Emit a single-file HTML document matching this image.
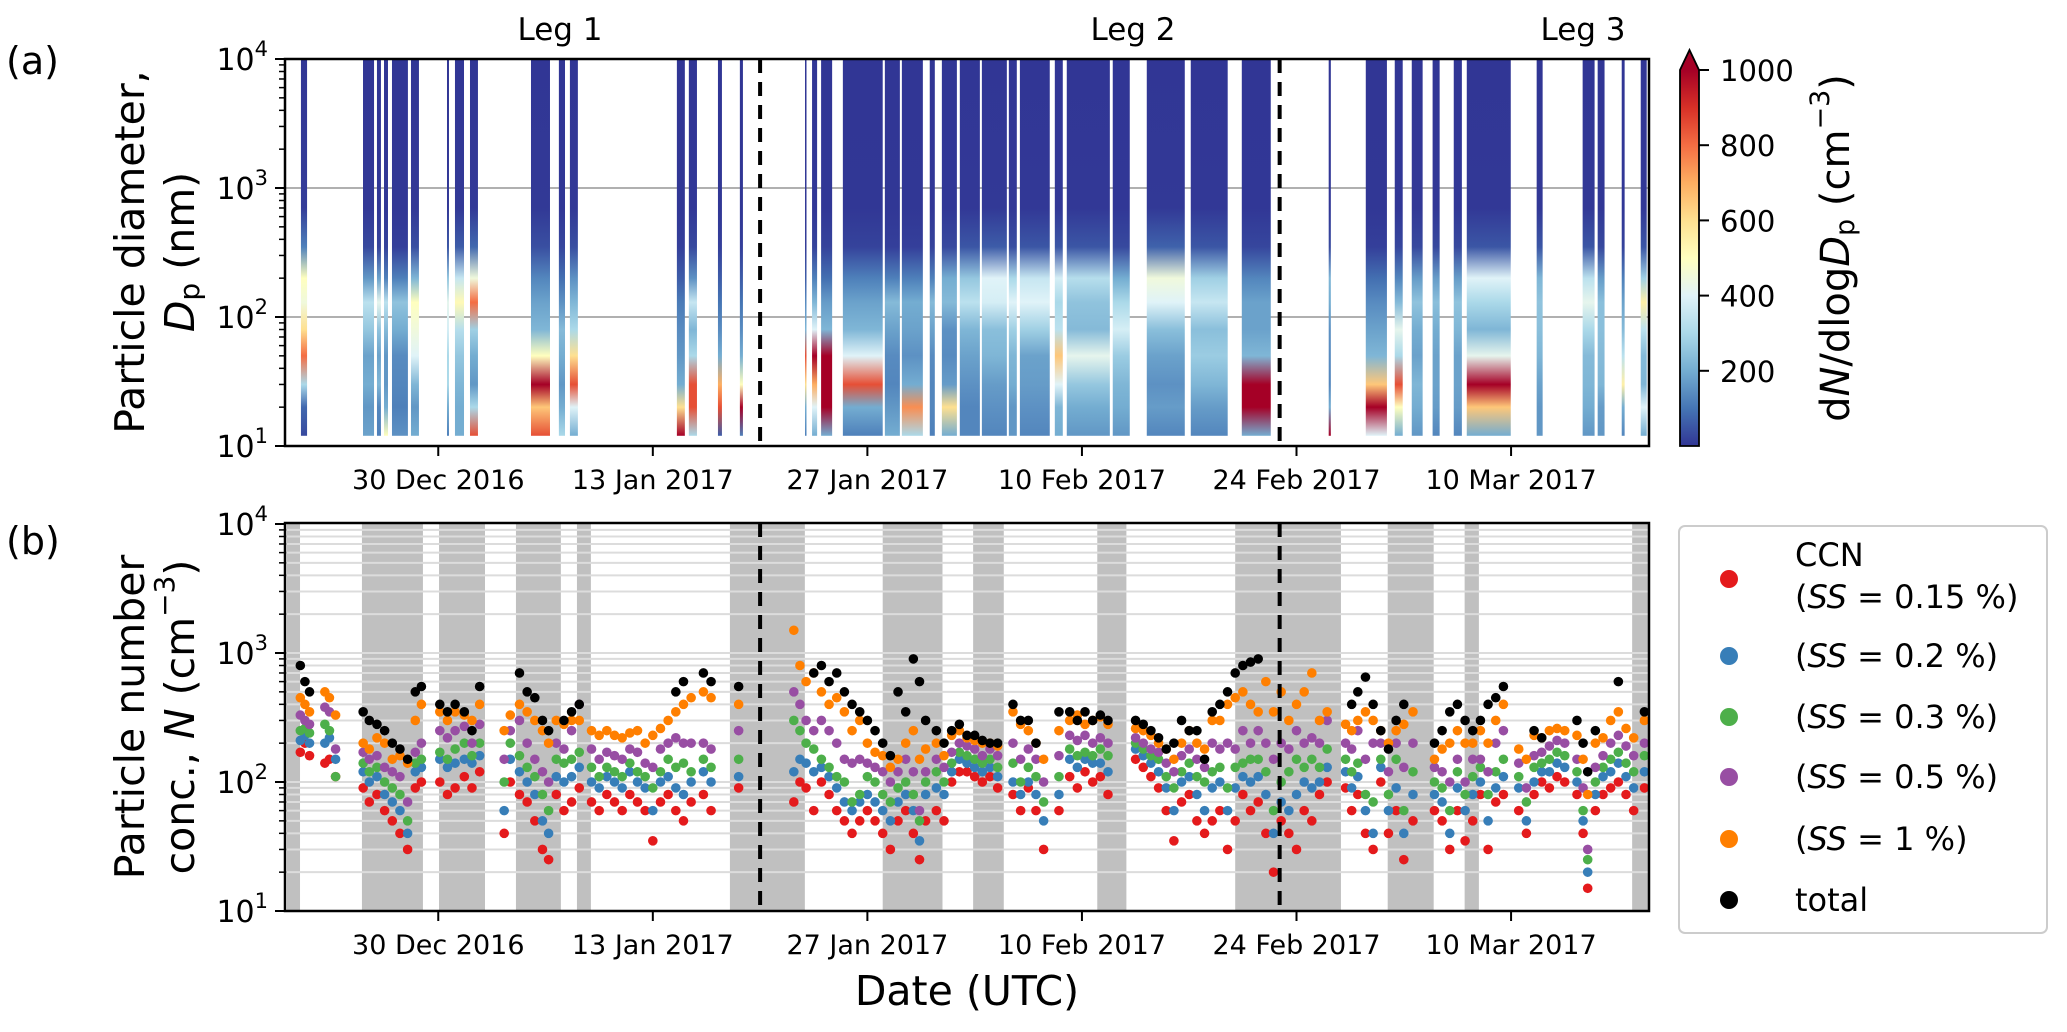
<!DOCTYPE html>
<html><head><meta charset="utf-8"><style>
html,body{margin:0;padding:0;background:#fff;}
svg text{font-family:"DejaVu Sans","Liberation Sans",sans-serif;fill:#000;}
</style></head><body>
<svg id="fig" xmlns="http://www.w3.org/2000/svg" width="2067" height="1027" viewBox="0 0 2067 1027">
<defs id="defs"></defs>
<g id="shade"></g>
<g id="gridA"></g>
<g id="gridB"></g>
<g id="heat"></g>
<g id="pts"></g>
<g id="axes"></g>
<text x="6" y="74" font-size="38">(a)</text>
<text x="6" y="554" font-size="38">(b)</text>
<text x="560" y="40" font-size="31" text-anchor="middle">Leg 1</text>
<text x="1133" y="40" font-size="31" text-anchor="middle">Leg 2</text>
<text x="1583" y="40" font-size="31" text-anchor="middle">Leg 3</text>
<text transform="translate(130,252) rotate(-90)" font-size="41" text-anchor="middle" dominant-baseline="central">Particle diameter,</text>
<text transform="translate(180,252) rotate(-90)" font-size="41" text-anchor="middle" dominant-baseline="central"><tspan font-style="italic">D</tspan><tspan font-size="28" dy="9">p</tspan><tspan dy="-9"> (nm)</tspan></text>
<text transform="translate(130,717) rotate(-90)" font-size="41" text-anchor="middle" dominant-baseline="central">Particle number</text>
<text transform="translate(180,717) rotate(-90)" font-size="41" text-anchor="middle" dominant-baseline="central">conc., <tspan font-style="italic">N</tspan> (cm<tspan font-size="28" dy="-16">−3</tspan><tspan dy="16">)</tspan></text>
<text x="967" y="1005" font-size="41" text-anchor="middle">Date (UTC)</text>
<text transform="translate(1836,248) rotate(-90)" font-size="40" text-anchor="middle" dominant-baseline="central">d<tspan font-style="italic">N</tspan>/dlog<tspan font-style="italic">D</tspan><tspan font-size="27" dy="9">p</tspan><tspan dy="-9"> (cm</tspan><tspan font-size="27" dy="-16">−3</tspan><tspan dy="16">)</tspan></text>
<g id="cbar"></g>
<g id="legend">
<rect x="1679" y="526" width="368" height="407" rx="6" fill="#fff" stroke="#cccccc" stroke-width="2"/>
<circle cx="1729" cy="579" r="9" fill="#e41a1c"/>
<text x="1795" y="566" font-size="32">CCN</text>
<text x="1795" y="608" font-size="32">(<tspan font-style="italic">SS</tspan> = 0.15 %)</text>
<circle cx="1729" cy="656" r="9" fill="#377eb8"/>
<text x="1795" y="667" font-size="32">(<tspan font-style="italic">SS</tspan> = 0.2 %)</text>
<circle cx="1729" cy="717" r="9" fill="#4daf4a"/>
<text x="1795" y="728" font-size="32">(<tspan font-style="italic">SS</tspan> = 0.3 %)</text>
<circle cx="1729" cy="777" r="9" fill="#984ea3"/>
<text x="1795" y="788" font-size="32">(<tspan font-style="italic">SS</tspan> = 0.5 %)</text>
<circle cx="1729" cy="839" r="9" fill="#ff7f00"/>
<text x="1795" y="850" font-size="32">(<tspan font-style="italic">SS</tspan> = 1 %)</text>
<circle cx="1729" cy="900" r="9" fill="#000"/>
<text x="1795" y="911" font-size="32">total</text>
</g>
</svg>
<script>
// ---- data (days since 20 Dec 2016) ----
const tickDays = [10, 24, 38, 52, 66, 80];
const tickLabels = ["30 Dec 2016", "13 Jan 2017", "27 Jan 2017", "10 Feb 2017", "24 Feb 2017", "10 Mar 2017"];
const legBoundaries = [31.0, 64.9];
const shadeStart = [0.13, 5.02, 10.05, 15.07, 19.05, 29.03, 39.0, 44.9, 53.0, 62.0, 71.95, 76.97, 87.9];
const shadeEnd   = [0.98, 9.0, 13.05, 18.0, 19.96, 33.92, 42.9, 46.9, 54.9, 68.9, 74.95, 77.9, 89.0];
const cbTicks = [200, 400, 600, 800, 1000];
const diamLevels = [12, 20, 30, 50, 80, 130, 200, 350, 700, 10000];
const segStart = [1.04,5.09,6.0,6.46,6.98,8.22,10.57,11.09,12.07,16.05,17.87,18.59,25.57,26.35,28.25,29.68,33.93,34.39,34.98,36.4,39.14,40.25,42.07,42.86,44.03,45.47,47.23,47.95,50.23,51.01,54.01,56.23,59.1,62.43,68.1,70.52,72.41,73.52,74.88,76.26,77.11,81.67,84.67,85.65,87.22,88.46];
const segEnd   = [1.44,5.81,6.26,6.72,8.02,8.74,10.70,11.68,12.59,17.29,18.27,19.11,26.09,26.88,28.51,29.88,34.0,34.72,35.7,39.0,40.12,41.62,42.4,43.84,45.34,47.1,47.75,49.9,50.75,53.82,55.12,58.71,61.51,64.32,68.24,71.9,72.93,74.23,75.34,76.79,79.98,82.06,85.45,86.1,87.41,88.85];
const segValues = [
[30,80,300,800,600,450,500,120,10,0],[180,160,200,180,260,330,160,30,3,0],[120,130,220,180,250,420,180,20,2,0],
[500,200,160,160,230,330,120,20,2,0],[150,120,130,140,200,250,120,15,1,0],[200,160,220,400,450,500,220,40,3,0],
[120,200,300,300,380,420,260,50,3,0],[200,200,220,260,320,520,350,60,4,0],[850,300,160,200,280,800,450,80,5,0],
[850,650,1000,500,220,180,130,40,4,0],[300,200,160,200,230,150,90,25,2,0],[200,400,850,600,300,220,150,40,3,0],
[1000,600,200,160,140,110,60,15,1,0],[300,850,850,300,220,350,150,30,2,0],[60,850,700,200,140,100,60,15,1,0],
[120,1000,500,200,140,100,60,15,1,0],[120,200,600,850,220,140,60,10,1,0],[200,400,700,1000,400,220,120,20,2,0],
[200,1000,1000,1000,220,170,90,20,2,0],[120,200,850,400,220,180,120,20,1,0],[200,160,130,140,180,230,120,15,1,0],
[300,750,200,150,180,200,120,15,1,0],[120,130,130,140,180,230,120,20,2,0],[200,600,170,140,150,230,200,30,2,0],
[130,130,150,180,220,330,260,50,3,0],[130,150,170,220,240,380,400,60,4,0],[160,160,200,220,280,400,300,40,3,0],
[130,150,170,180,280,400,350,50,3,0],[200,220,400,650,330,300,380,50,3,0],[160,200,260,420,230,250,320,50,3,0],
[160,200,220,270,380,300,200,30,2,0],[130,170,150,180,240,400,450,70,4,0],[130,170,220,270,240,350,280,50,3,0],
[200,1000,1000,220,180,180,130,25,2,0],[1000,200,130,140,150,200,220,30,2,0],[400,1000,650,220,180,140,90,15,1,0],
[200,500,850,300,420,230,130,25,2,0],[160,200,220,180,200,250,170,30,3,0],[130,170,180,180,200,240,170,30,2,0],
[130,170,180,180,220,250,170,30,2,0],[200,650,1000,420,220,300,400,50,3,0],[160,160,180,220,240,250,220,50,3,0],
[160,200,220,230,300,420,330,50,3,0],[160,170,220,230,240,240,170,30,2,0],[130,200,550,330,230,180,120,20,2,0],
[200,400,220,230,330,550,280,50,3,0]];
const times = [
1.0,1.3,1.6,2.6,2.9,3.3,
5.1,5.5,6.0,6.5,7.0,7.5,8.0,8.5,8.9,
10.1,10.6,11.1,11.7,12.2,12.7,
14.3,14.7,
15.3,15.8,16.3,16.8,17.2,17.7,18.2,18.7,19.2,
20.0,20.5,21.0,21.5,22.0,22.5,23.0,23.5,24.0,24.5,25.0,25.5,26.0,26.5,27.3,27.8,
29.6,
33.2,33.6,34.0,34.5,35.0,35.5,36.0,36.5,37.0,37.5,38.0,38.5,39.0,39.5,40.0,40.5,41.0,41.4,41.8,42.5,43.0,
43.5,44.0,44.5,45.0,45.5,46.0,46.5,
47.5,48.0,48.5,49.0,49.5,
50.5,
51.2,51.7,52.2,52.7,53.2,53.7,
55.5,56.0,56.5,57.0,57.5,58.0,58.5,59.0,59.5,60.0,60.5,61.0,61.5,62.0,62.5,63.0,63.5,
64.0,64.5,65.0,65.5,66.0,66.5,67.0,67.5,68.0,
69.2,69.6,70.0,70.5,71.0,71.5,72.0,72.5,73.0,73.6,
75.0,75.5,76.0,76.5,77.0,77.5,78.0,78.5,79.0,79.5,
80.5,81.0,81.5,82.0,82.5,83.0,83.5,
84.3,84.7,85.0,85.5,86.0,86.5,87.0,87.5,88.0,88.7];
const ccn015 = [
170,200,160,140,150,110,
90,70,80,60,50,40,30,90,100,
100,80,90,110,90,120,
40,100,
80,70,50,30,25,80,60,70,90,
70,60,80,70,60,80,70,60,35,70,80,60,50,70,80,60,
90,
70,100,90,60,100,80,60,50,40,50,60,50,40,30,50,60,40,25,50,60,50,
100,120,120,110,100,110,90,
80,60,90,60,30,
60,
110,90,120,100,110,80,
150,130,110,90,60,35,70,80,50,40,50,60,30,50,80,60,70,
40,20,50,40,30,60,50,80,100,
90,60,80,40,30,100,40,60,25,50,
60,50,30,60,35,50,80,30,70,80,
60,40,80,100,90,110,100,
80,40,15,60,80,90,100,80,60,90];
const ccn02 = [
210,230,200,200,220,150,
120,100,110,80,70,60,40,120,130,
150,130,140,150,140,160,
60,150,
120,100,80,50,40,110,100,110,130,
100,90,110,100,90,120,100,90,60,100,110,90,80,100,120,100,
110,
120,150,140,120,130,110,90,70,60,70,80,70,60,50,70,80,60,35,80,90,80,
120,150,140,130,120,130,110,
100,80,100,80,50,
80,
150,130,150,140,140,120,
180,160,140,120,90,60,100,110,80,60,90,100,60,90,110,100,110,
80,40,70,60,80,100,90,100,130,
120,90,110,60,40,130,60,90,40,80,
80,70,40,90,60,80,100,50,90,110,
90,50,100,120,120,140,130,
100,50,20,80,110,120,140,110,90,120];
const ccn03 = [
250,260,240,280,250,110,
140,120,130,100,90,80,50,140,150,
170,150,180,200,160,200,
100,200,
160,130,110,80,60,150,140,150,170,
130,110,130,120,110,140,120,110,90,120,150,130,140,120,150,130,
150,
300,250,200,180,150,130,110,100,70,80,110,100,80,70,90,100,80,50,100,120,100,
140,170,160,150,140,150,130,
140,100,130,110,70,
110,
180,160,170,160,180,160,
200,180,160,150,110,90,120,140,110,100,120,130,90,130,140,150,150,
120,60,100,120,150,130,150,130,180,
150,120,140,80,70,150,80,150,60,120,
100,90,60,120,80,110,130,80,120,150,
110,70,130,140,150,170,160,
120,60,25,100,130,150,170,140,120,160];
const ccn05 = [
330,300,280,380,350,180,
170,150,160,130,120,110,70,170,200,
250,220,250,270,200,280,
150,250,
300,200,150,120,100,200,180,250,400,
180,150,170,160,150,180,170,140,130,180,200,220,200,200,200,180,
250,
500,400,300,250,300,250,200,150,140,150,140,130,120,100,120,150,120,60,120,150,130,
170,200,190,180,160,180,160,
200,150,180,150,100,
160,
230,210,230,200,220,200,
220,200,180,170,140,120,160,180,150,130,200,180,200,180,250,200,250,
200,150,200,180,250,200,220,200,300,
200,180,250,150,200,200,120,200,130,200,
130,120,100,150,100,150,150,120,200,250,
140,90,160,170,190,210,200,
150,90,30,130,160,200,230,190,160,200];
const ccn1 = [
450,400,350,500,450,330,
200,180,220,200,150,160,140,300,400,
350,300,350,330,300,400,
250,330,
400,350,300,250,200,300,280,300,300,
250,230,250,230,220,240,250,200,230,260,300,350,400,450,500,450,
400,
1500,800,600,700,500,400,450,350,250,300,200,170,160,130,150,200,250,150,180,200,160,
230,250,220,210,200,200,190,
350,280,250,200,150,
250,
300,330,280,300,320,280,
260,250,230,200,180,150,200,250,200,180,300,300,400,450,500,400,350,
600,350,500,300,400,500,700,300,350,
280,250,300,350,300,250,200,250,280,350,
150,180,200,250,200,200,250,200,300,400,
180,150,230,220,250,260,250,
230,150,80,200,220,300,350,260,220,300];
const totalN = [
800,600,500,null,null,null,
350,300,280,250,200,180,150,500,550,
400,350,400,350,250,550,
null,null,
700,500,450,300,250,null,300,350,400,
null,null,null,null,null,null,null,null,null,null,null,500,600,null,700,600,
550,
null,null,null,700,800,600,700,500,400,350,300,250,200,160,500,350,900,600,300,250,200,
250,280,230,230,210,200,200,
400,300,300,200,null,
350,
350,300,350,300,330,300,
300,280,250,220,180,200,300,250,250,150,350,400,500,700,800,850,900,
null,null,null,null,null,null,null,null,null,
null,400,500,650,400,250,180,300,400,null,
200,250,350,400,300,250,300,400,450,550,
null,null,250,220,null,null,null,
300,200,120,250,null,null,600,null,null,350];
const seriesColors = ["#e41a1c","#377eb8","#4daf4a","#984ea3","#ff7f00","#000000"];
const seriesNames = ["ss015","ss02","ss03","ss05","ss1","total"];

// ---- axes functions ----
const X0 = 285, X1 = 1649, DAYS = 89;
const xs = d => X0 + d * (X1 - X0) / DAYS;
const yA = D => 446 - (Math.log10(D) - 1) * 129;
const yB = N => 911 - (Math.log10(N) - 1) * 129;
const NS = "http://www.w3.org/2000/svg";
function mk(tag, attrs, parent) {
  const e = document.createElementNS(NS, tag);
  for (const k in attrs) e.setAttribute(k, attrs[k]);
  parent.appendChild(e);
  return e;
}
const cmapStops = ['#313695','#4575b4','#74add1','#abd9e9','#e0f3f8','#ffffbf','#fee090','#fdae61','#f46d43','#d73027','#a50026'];
function hex2rgb(h){return [parseInt(h.substr(1,2),16),parseInt(h.substr(3,2),16),parseInt(h.substr(5,2),16)];}
function cmap(v){
  let f = Math.max(0, Math.min(1, v/1000)) * 10;
  const i = Math.min(9, Math.floor(f)); const t = f - i;
  const a = hex2rgb(cmapStops[i]), b = hex2rgb(cmapStops[i+1]);
  return "rgb(" + a.map((c,k)=>Math.round(c+(b[k]-c)*t)).join(",") + ")";
}
const defs = document.getElementById("defs");
const shade = document.getElementById("shade");
const gridA = document.getElementById("gridA");
const gridB = document.getElementById("gridB");
const heat = document.getElementById("heat");
const pts = document.getElementById("pts");
const axes = document.getElementById("axes");
const cbar = document.getElementById("cbar");

for (let i = 0; i < shadeStart.length; i++) {
  const r = mk("rect", {x: xs(shadeStart[i]), y: 523, width: xs(shadeEnd[i]) - xs(shadeStart[i]), height: 388, fill: "#c0c0c0"}, shade);
  
  
}
[100, 1000].forEach(v => {
  const l = mk("line", {x1: X0, x2: X1, y1: yA(v), y2: yA(v), stroke: "#b0b0b0", "stroke-width": 2}, gridA);
  
  
});
for (let dec = 1; dec < 4; dec++) for (let m = 1; m <= 9; m++) {
  const v = m * Math.pow(10, dec);
  if (v <= 10) continue;
  const l = mk("line", {x1: X0, x2: X1, y1: yB(v), y2: yB(v), stroke: "#dcdcdc", "stroke-width": 2}, gridB);
  
  
}
const yTopCol = yA(10000), yBotCol = yA(diamLevels[0]);
const lmin = Math.log10(diamLevels[0]), lmax = 4;
for (let s = 0; s < segStart.length; s++) {
  const g = mk("linearGradient", {id: "hg" + s, x1: 0, y1: 1, x2: 0, y2: 0}, defs);
  diamLevels.forEach((D, k) => {
    mk("stop", {offset: ((Math.log10(D) - lmin) / (lmax - lmin)).toFixed(4), "stop-color": cmap(segValues[s][k])}, g);
  });
  const r = mk("rect", {x: xs(segStart[s]), y: yTopCol, width: Math.max(1.5, xs(segEnd[s]) - xs(segStart[s])), height: yBotCol - yTopCol, fill: "url(#hg" + s + ")"}, heat);
  
  
}
const allSeries = [ccn015, ccn02, ccn03, ccn05, ccn1, totalN];
allSeries.forEach((arr, si) => {
  const n = Math.min(arr.length, times.length);
  for (let i = 0; i < n; i++) {
    if (arr[i] == null) continue;
    const c = mk("circle", {cx: xs(times[i]), cy: yB(arr[i]), r: 4.8, fill: seriesColors[si]}, pts);
    
    
  }
});
[[59,446],[523,911]].forEach(([t,b]) => legBoundaries.forEach(d => {
  const l = mk("line", {x1: xs(d), x2: xs(d), y1: t, y2: b, stroke: "#000", "stroke-width": 4, "stroke-dasharray": "14,9"}, axes);
  
  
}));
[[59,446,yA,"a"],[523,911,yB,"b"]].forEach(([t,b,yf,p]) => {
  const fr = mk("rect", {x: X0, y: t, width: X1 - X0, height: b - t, fill: "none", stroke: "#000", "stroke-width": 2.5}, axes);
  
  
  for (let dec = 1; dec <= 4; dec++) {
    const y = yf(Math.pow(10, dec));
    const tk = mk("line", {x1: X0 - 10, x2: X0, y1: y, y2: y, stroke: "#000", "stroke-width": 2}, axes);
    
    
    const tx = mk("text", {x: 268, y: y + 11, "font-size": 30, "text-anchor": "end"}, axes);
    
    
    tx.textContent = "10";
    const sp = mk("tspan", {"font-size": 21, dy: -14}, tx);
    sp.textContent = String(dec);
    if (dec < 4) for (let m = 2; m <= 9; m++) {
      const ym = yf(m * Math.pow(10, dec));
      const mt = mk("line", {x1: X0 - 6, x2: X0, y1: ym, y2: ym, stroke: "#000", "stroke-width": 1.5}, axes);
      
      
    }
  }
  tickDays.forEach((d, i) => {
    const tk = mk("line", {x1: xs(d), x2: xs(d), y1: b, y2: b + 10, stroke: "#000", "stroke-width": 2}, axes);
    
    
    const tx = mk("text", {x: xs(d), y: b + 43, "font-size": 27, "text-anchor": "middle"}, axes);
    
    
    tx.textContent = tickLabels[i];
  });
});
const cg = mk("linearGradient", {id: "cbg", x1: 0, y1: 1, x2: 0, y2: 0}, defs);
cmapStops.forEach((c, i) => mk("stop", {offset: i / 10, "stop-color": c}, cg));
const cbRect = mk("rect", {x: 1680, y: 70, width: 19, height: 376, fill: "url(#cbg)"}, cbar);


const cbTri = mk("path", {d: "M1680,70 L1689.5,50 L1699,70 Z", fill: "#a50026"}, cbar);


const cbOut = mk("path", {d: "M1680,446 L1680,70 L1689.5,50 L1699,70 L1699,446 Z", fill: "none", stroke: "#000", "stroke-width": 1.8}, cbar);


const cbY = v => 446 - v / 1000 * 376;
cbTicks.forEach(v => {
  const tk = mk("line", {x1: 1699, x2: 1709, y1: cbY(v), y2: cbY(v), stroke: "#000", "stroke-width": 2}, cbar);
  
  
  const tx = mk("text", {x: 1720, y: cbY(v) + 11, "font-size": 29}, cbar);
  
  
  tx.textContent = String(v);
});
</script>
</body></html>
